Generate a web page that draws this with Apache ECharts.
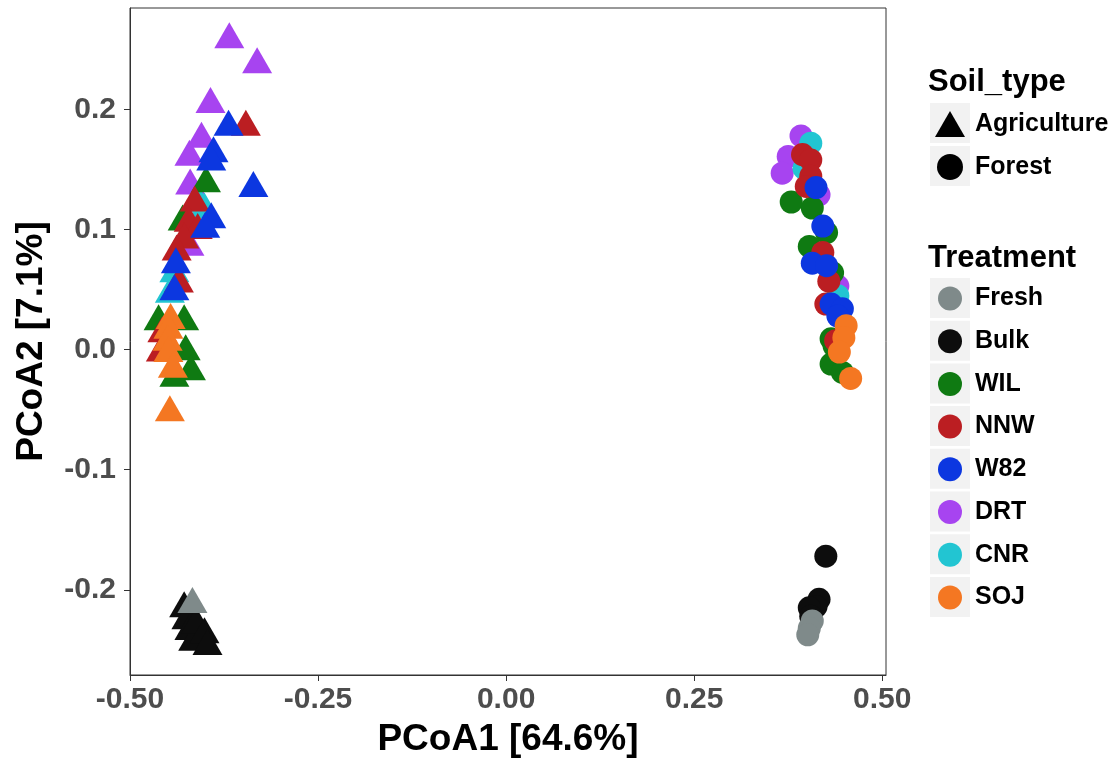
<!DOCTYPE html>
<html>
<head>
<meta charset="utf-8">
<script src="https://cdn.jsdelivr.net/npm/echarts@6/dist/echarts.min.js"></script>
<style>
  html, body { margin: 0; padding: 0; background: #fff; }
  #pcoa { width: 1114px; height: 763px; }
</style>
</head>
<body>
<div id="pcoa"></div>
<script>
// treatments in legend order, with their colours
const treatments = ['Fresh', 'Bulk', 'WIL', 'NNW', 'W82', 'DRT', 'CNR', 'SOJ'];
const treatColors = ['#7f8a8a', '#0d0d0d', '#0f7a12', '#bb1e22', '#0c37e0', '#a744f0', '#22c5d2', '#f47722'];
// drawing order (later on top)
const drawOrder = ['Bulk', 'Fresh', 'DRT', 'CNR', 'WIL', 'NNW', 'W82', 'SOJ'];

const xTicks = [-0.5, -0.25, 0, 0.25, 0.5];
const yTicks = [-0.2, -0.1, 0, 0.1, 0.2];

// Agriculture samples (triangles) [PCoA1, PCoA2]
const agriFresh = [[-0.417, -0.2085]];
const agriBulk = [[-0.428, -0.212], [-0.425, -0.222], [-0.421, -0.231], [-0.416, -0.240],
  [-0.412, -0.2254], [-0.401, -0.2337], [-0.397, -0.2435]];
const agriWIL = [[-0.399, 0.142], [-0.430, 0.110], [-0.462, 0.027], [-0.428, 0.027],
  [-0.426, 0.002], [-0.419, -0.0146], [-0.441, -0.020]];
const agriNNW = [[-0.346, 0.189], [-0.414, 0.126], [-0.422, 0.109], [-0.410, 0.103],
  [-0.428, 0.095], [-0.438, 0.085], [-0.435, 0.0585], [-0.457, 0.017], [-0.459, 0.001]];
const agriW82 = [[-0.369, 0.189], [-0.389, 0.167], [-0.392, 0.160], [-0.336, 0.138],
  [-0.392, 0.112], [-0.400, 0.104], [-0.439, 0.0745], [-0.441, 0.052]];
const agriDRT = [[-0.368, 0.262], [-0.331, 0.241], [-0.393, 0.208], [-0.405, 0.179],
  [-0.421, 0.164], [-0.420, 0.140], [-0.421, 0.089]];
const agriCNR = [[-0.408, 0.125], [-0.401, 0.120], [-0.441, 0.067], [-0.447, 0.050]];
const agriSOJ = [[-0.446, 0.028], [-0.449, 0.020], [-0.450, 0.010], [-0.449, 0.0006],
  [-0.443, -0.0125], [-0.447, -0.0487]];

// Forest samples (circles)
const forestFresh = [[0.407, -0.226], [0.403, -0.232], [0.401, -0.2375]];
const forestBulk = [[0.425, -0.172], [0.416, -0.208], [0.412, -0.214], [0.403, -0.215], [0.405, -0.222]];
const forestWIL = [[0.379, 0.123], [0.407, 0.118], [0.426, 0.0975], [0.403, 0.086], [0.434, 0.064],
  [0.432, 0.009], [0.436, 0.003], [0.432, -0.012], [0.447, -0.019]];
const forestNNW = [[0.394, 0.1625], [0.405, 0.158], [0.405, 0.1445], [0.399, 0.136], [0.421, 0.081],
  [0.429, 0.057], [0.425, 0.038], [0.438, 0.0075]];
const forestW82 = [[0.412, 0.135], [0.421, 0.103], [0.407, 0.072], [0.426, 0.070], [0.432, 0.038],
  [0.447, 0.034], [0.441, 0.028]];
const forestDRT = [[0.392, 0.178], [0.375, 0.161], [0.367, 0.147], [0.416, 0.129], [0.441, 0.053]];
const forestCNR = [[0.405, 0.172], [0.396, 0.151], [0.441, 0.045]];
const forestSOJ = [[0.452, 0.020], [0.449, 0.010], [0.443, -0.002], [0.458, -0.024]];

const agri = { Fresh: agriFresh, Bulk: agriBulk, WIL: agriWIL, NNW: agriNNW, W82: agriW82, DRT: agriDRT, CNR: agriCNR, SOJ: agriSOJ };
const forest = { Fresh: forestFresh, Bulk: forestBulk, WIL: forestWIL, NNW: forestNNW, W82: forestW82, DRT: forestDRT, CNR: forestCNR, SOJ: forestSOJ };

const FONT = "'Liberation Sans', Arial, Helvetica, sans-serif";
const TRI = 'path://M15,0 L30,26 L0,26 Z';

function colorOf(name) {
  return treatColors[treatments.indexOf(name)];
}

const series = [];
drawOrder.forEach(function (t) {
  series.push({
    name: t, type: 'scatter', symbol: 'triangle', symbolSize: [30, 26],
    itemStyle: { color: colorOf(t), opacity: 1 }, data: agri[t], z: 2
  });
});
drawOrder.forEach(function (t) {
  series.push({
    name: t, type: 'scatter', symbol: 'circle', symbolSize: 23,
    itemStyle: { color: colorOf(t), opacity: 1 }, data: forest[t], z: 2
  });
});
// legend-only series for soil type
series.push({ name: 'Agriculture', type: 'scatter', symbol: TRI, itemStyle: { color: '#000', opacity: 1 }, data: [] });
series.push({ name: 'Forest', type: 'scatter', symbol: 'circle', itemStyle: { color: '#000', opacity: 1 }, data: [] });

// grey legend key boxes
const keyBoxes = [];
[123, 166].forEach(function (cy) {
  keyBoxes.push({ type: 'rect', left: 930, top: cy - 20, shape: { width: 40, height: 40 }, style: { fill: '#f2f2f2' }, z: 0 });
});
treatments.forEach(function (t, i) {
  const cy = 298 + i * 42.7;
  keyBoxes.push({ type: 'rect', left: 930, top: cy - 20, shape: { width: 40, height: 40 }, style: { fill: '#f2f2f2' }, z: 0 });
});

const chart = echarts.init(document.getElementById('pcoa'));
chart.setOption({
  animation: false,
  backgroundColor: '#fff',
  textStyle: { fontFamily: FONT },
  title: [
    { text: 'Soil_type', left: 928, top: 67, padding: 0,
      textStyle: { fontFamily: FONT, fontSize: 31, fontWeight: 'bold', color: '#000' } },
    { text: 'Treatment', left: 928, top: 243, padding: 0,
      textStyle: { fontFamily: FONT, fontSize: 31, fontWeight: 'bold', color: '#000' } }
  ],
  grid: { left: 130, right: 228, top: 8, bottom: 86, show: true, borderColor: '#333', borderWidth: 1 },
  xAxis: {
    type: 'value', min: -0.5, max: 0.505,
    name: 'PCoA1 [64.6%]', nameLocation: 'middle', nameGap: 46,
    nameTextStyle: { fontFamily: FONT, fontSize: 37, fontWeight: 'bold', color: '#000' },
    splitLine: { show: false },
    axisLine: { onZero: false, lineStyle: { color: '#333', width: 1 } },
    axisTick: { show: true, length: 6, customValues: xTicks, lineStyle: { color: '#333' } },
    axisLabel: {
      customValues: xTicks, margin: 10, fontFamily: FONT, fontSize: 30, fontWeight: 'bold', color: '#4d4d4d',
      formatter: function (v) { return v.toFixed(2); }
    }
  },
  yAxis: {
    type: 'value', min: -0.271, max: 0.2846,
    name: 'PCoA2 [7.1%]', nameLocation: 'middle', nameGap: 80,
    nameTextStyle: { fontFamily: FONT, fontSize: 37, fontWeight: 'bold', color: '#000' },
    splitLine: { show: false },
    axisLine: { show: true, onZero: false, lineStyle: { color: '#333', width: 1 } },
    axisTick: { show: true, length: 6, customValues: yTicks, lineStyle: { color: '#333' } },
    axisLabel: {
      customValues: yTicks, margin: 14, fontFamily: FONT, fontSize: 30, fontWeight: 'bold', color: '#4d4d4d',
      formatter: function (v) { return v.toFixed(1); }
    }
  },
  legend: [
    {
      orient: 'vertical', left: 935, top: 111, padding: 0, itemGap: 17,
      itemWidth: 40, itemHeight: 26, selectedMode: false, symbolKeepAspect: true, z: 10,
      data: [
        { name: 'Agriculture', icon: TRI, itemStyle: { color: '#000', opacity: 1 } },
        { name: 'Forest', icon: 'circle', itemStyle: { color: '#000', opacity: 1 } }
      ],
      textStyle: { fontFamily: FONT, fontSize: 25, fontWeight: 'bold', color: '#000', lineHeight: 26 }
    },
    {
      orient: 'vertical', left: 938, top: 286, padding: 0, itemGap: 17.7,
      itemWidth: 40, itemHeight: 24, selectedMode: false, icon: 'circle', z: 10,
      data: treatments,
      textStyle: { fontFamily: FONT, fontSize: 25, fontWeight: 'bold', color: '#000', lineHeight: 24 }
    }
  ],
  graphic: keyBoxes,
  series: series
});
</script>
</body>
</html>
